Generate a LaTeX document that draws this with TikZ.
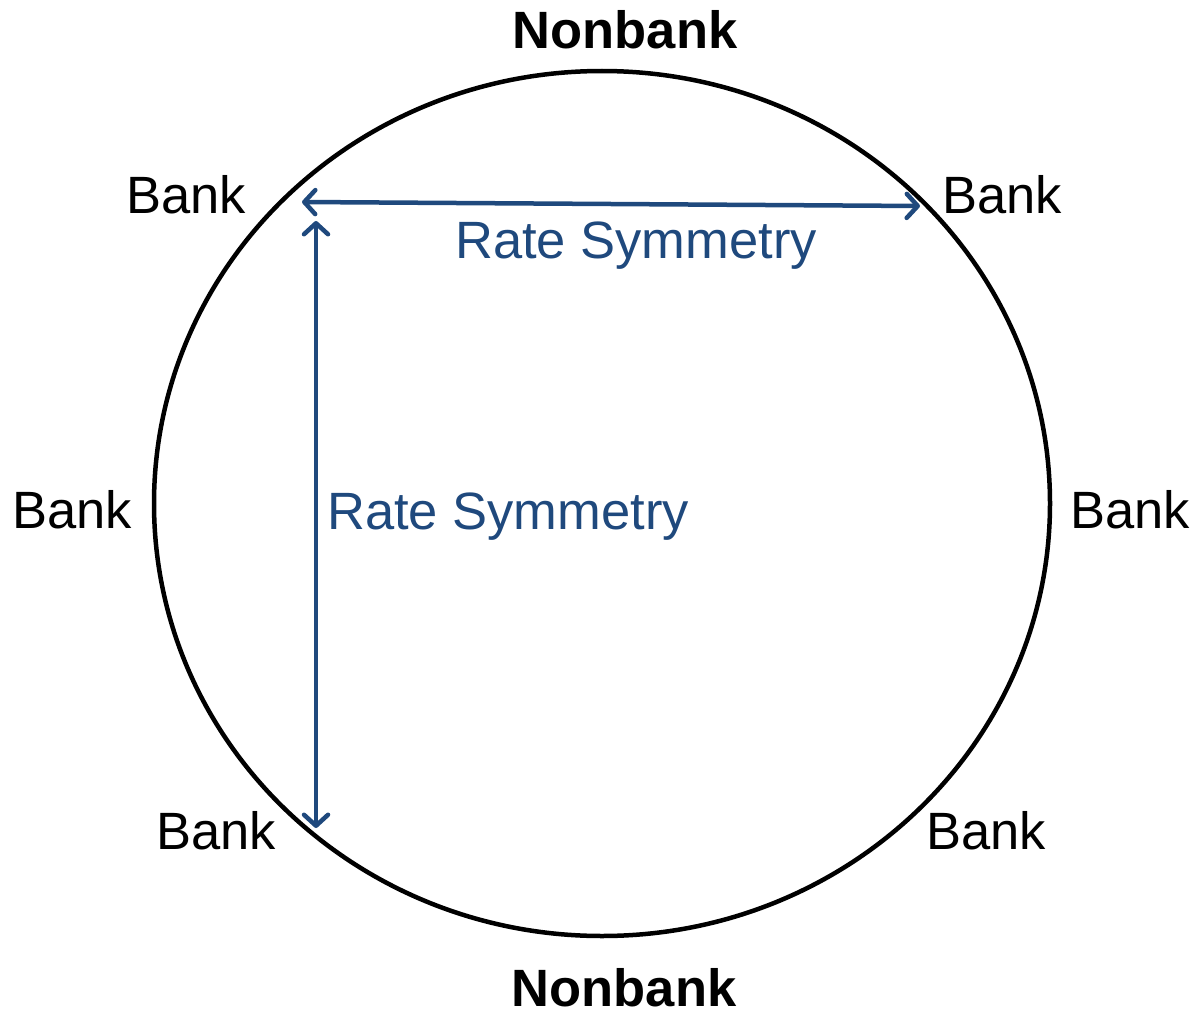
\documentclass[tikz,border=0pt]{standalone}
\usepackage{fontspec}
\setmainfont{Liberation Sans}
\usetikzlibrary{arrows.meta}
\definecolor{rsblue}{RGB}{31,73,125}
\tikzset{
  lbl/.style={anchor=base, inner sep=0pt, font=\fontsize{52.5}{60}\selectfont},
  boldlbl/.style={lbl, font=\fontsize{52.5}{60}\selectfont\bfseries},
  bluelbl/.style={lbl, text=rsblue},
  rsarrow/.style={draw=rsblue, line width=4.5pt, line cap=round,
    {Straight Barb[round, length=11pt, width=24pt, line width=4.5pt]}-{Straight Barb[round, length=11pt, width=24pt, line width=4.5pt]}}
}
\begin{document}
\begin{tikzpicture}[x=1pt, y=-1pt]
\useasboundingbox (0,0) rectangle (1196,1014);
\draw[line width=4.5pt] (602,503.5) ellipse [x radius=448, y radius=432.5];
\node[boldlbl] (nbtop) at (625,49) {Nonbank};
\node[boldlbl] (nbbot) at (624,1006) {Nonbank};
\node[lbl] (btl) at (186,213) {Bank};
\node[lbl] (btr) at (1002,213) {Bank};
\node[lbl] (bml) at (72,528) {Bank};
\node[lbl] (bmr) at (1130,528) {Bank};
\node[lbl] (bbl) at (216,849) {Bank};
\node[lbl] (bbr) at (986,849) {Bank};
\node[bluelbl] (rs1) at (636,258) {Rate Symmetry};
\node[bluelbl] (rs2) at (508,529) {Rate Symmetry};
\coordinate (h1) at (302,202);
\coordinate (h2) at (920,206);
\coordinate (v1) at (316,221);
\coordinate (v2) at (316,828);
\draw[rsarrow] (h1) -- (h2);
\draw[rsarrow] (v1) -- (v2);
\end{tikzpicture}
\end{document}
